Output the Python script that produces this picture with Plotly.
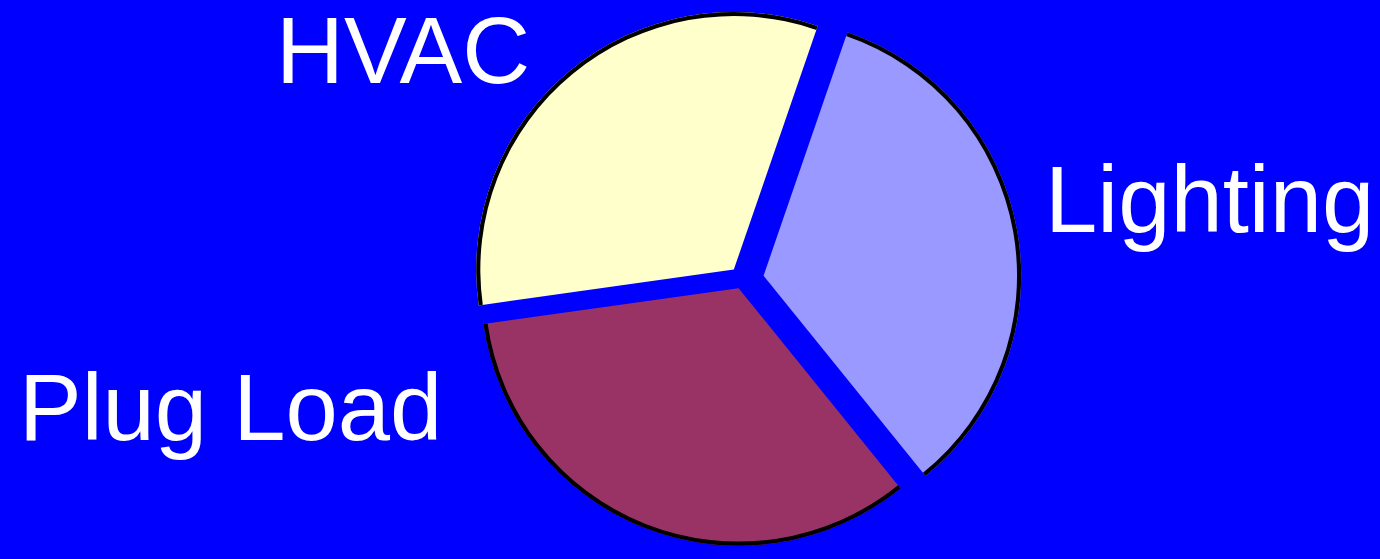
import plotly.graph_objects as go

# Data
categories = ["Lighting", "Plug Load", "HVAC"]
values = [33.9, 33.6, 32.5]
pulls = [0.085, 0.036, 0.05]
colors = ["#9999FF", "#993366", "#FFFFCC"]

W, H = 1380, 559
cx = 742
half = H / 2
dom_x = [(cx - half) / W, (cx + half) / W]

fig = go.Figure()
fig.add_trace(go.Pie(
    labels=categories, values=values, sort=False, direction="clockwise",
    rotation=19, pull=pulls, textinfo="none", hoverinfo="skip",
    marker=dict(colors=colors, line=dict(width=0)),
    domain=dict(x=dom_x, y=[0, 1]), showlegend=False,
))
# black outline along the outer arcs only
fig.add_trace(go.Pie(
    labels=categories, values=values, sort=False, direction="clockwise",
    rotation=19, pull=pulls, textinfo="none", hoverinfo="skip", hole=0.984,
    marker=dict(colors=["#000000"] * 3, line=dict(width=0)),
    domain=dict(x=dom_x, y=[0, 1]), showlegend=False,
))

label_pos = {"HVAC": (403.5, 50.5), "Lighting": (1209, 199), "Plug Load": (230.5, 407.4)}
for name in categories:
    px, py = label_pos[name]
    fig.add_annotation(
        text=name, x=px / W, y=1 - py / H, xref="paper", yref="paper",
        xanchor="center", yanchor="middle", showarrow=False,
        font=dict(family="Liberation Sans, Arial", size=94, color="white"),
    )

fig.update_layout(
    width=W, height=H, margin=dict(l=0, r=0, t=0, b=0),
    paper_bgcolor="#0000FF", plot_bgcolor="#0000FF", showlegend=False,
)
fig.write_html("out.html")
